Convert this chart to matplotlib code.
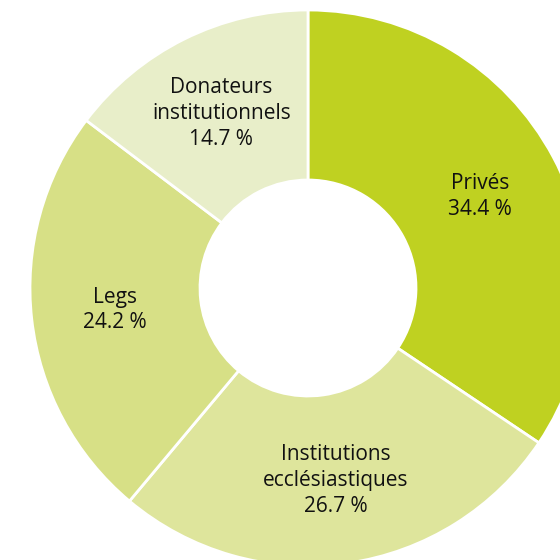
import matplotlib.pyplot as plt
import numpy as np

plt.rcParams["font.family"] = ["Open Sans", "DejaVu Sans"]

labels = ["Privés", "Institutions\necclésiastiques", "Legs", "Donateurs\ninstitutionnels"]
shares = [34.4, 26.7, 24.2, 14.7]
colors = ["#bfd121", "#dee59c", "#d7e086", "#e8eec9"]


def main() -> None:
    fig = plt.figure(figsize=(5.6, 5.6), dpi=100)
    ax = fig.add_axes([0, 0, 1, 1])

    radius = 278
    center = (308, 272)
    wedges, _ = ax.pie(
        shares,
        colors=colors,
        startangle=90,
        counterclock=False,
        radius=radius,
        center=center,
        frame=True,
        wedgeprops=dict(width=170, edgecolor="white", linewidth=2),
    )
    ax.set_xlim(0, 560)
    ax.set_ylim(0, 560)
    ax.set_aspect("equal")
    ax.axis("off")

    for w, lab, val in zip(wedges, labels, shares):
        ang = np.deg2rad((w.theta1 + w.theta2) / 2)
        r = radius * 0.70
        x = center[0] + r * np.cos(ang)
        y = center[1] + r * np.sin(ang)
        ax.text(x, y, f"{lab}\n{val:.1f} %", ha="center", va="center",
                fontsize=15, color="#111111", linespacing=1.3)

    fig.savefig("out.png", dpi=100)
    plt.close(fig)


if __name__ == "__main__":
    main()
